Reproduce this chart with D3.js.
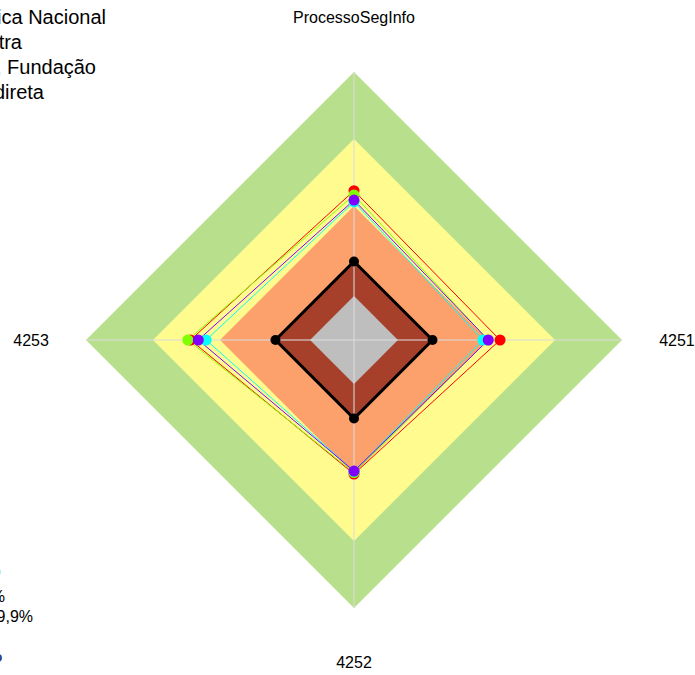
<!DOCTYPE html>
<html>
<head>
<meta charset="utf-8">
<script src="https://cdn.jsdelivr.net/npm/d3@7"></script>
<style>
  body { margin: 0; background: #fff; }
  svg { display: block; font-family: "Liberation Sans", Arial, sans-serif; }
</style>
</head>
<body>
<svg id="chart" width="695" height="675"></svg>
<script>
// axes, clockwise from the top
var axes = ["ProcessoSegInfo", "4251", "4252", "4253"];

// background bands (outer to inner)
var bandLevels = [100, 75, 50, 29.3, 16.4];
var bandColors = ["#b8e08c", "#fffb8f", "#fca16b", "#a6402b", "#bebebe"];

// series values, same order as axes
var serieVermelha = [55.7, 54.5, 50.0, 61.0];
var serieVerde    = [54.1, 50.0, 49.5, 62.0];
var serieCiano    = [51.5, 48.1, 49.0, 55.2];
var serieRoxa     = [52.2, 50.1, 48.9, 58.1];
var serieMinima   = [29.3, 29.3, 29.3, 29.3];

var series = [
  {values: serieVermelha, color: "#ff0000", width: 1},
  {values: serieVerde,    color: "#80ff00", width: 1},
  {values: serieCiano,    color: "#00ffff", width: 1},
  {values: serieRoxa,     color: "#8000ff", width: 1},
  {values: serieMinima,   color: "#000000", width: 3}
];

var legendLabels = ["Administração Pública Nacional", "Amostra", "Autarquia, Fundação", "Administração direta"];
var faixaLabels = ["Aprimorado: 70 a 100%", "Intermediário: 40 a 69,9%"];

var svg = d3.select("#chart"),
    cx = 354,
    cy = 340;

var r = d3.scaleLinear().domain([0, 100]).range([0, 268]);
var angle = d3.scaleLinear().domain([0, axes.length]).range([0, 2 * Math.PI]);

function pt(i, v) {
    var a = angle(i);
    return [cx + r(v) * Math.sin(a), cy - r(v) * Math.cos(a)];
}

var line = d3.line().curve(d3.curveLinearClosed);

// bands
svg.append("g")
    .selectAll("path")
    .data(bandLevels)
    .enter().append("path")
    .attr("d", function (lv) {
        return line(axes.map(function (_, i) { return pt(i, lv); }));
    })
    .attr("fill", function (d, i) { return bandColors[i]; });

// axis lines
svg.append("g")
    .selectAll("line")
    .data(axes)
    .enter().append("line")
    .attr("x1", cx).attr("y1", cy)
    .attr("x2", function (d, i) { return pt(i, 100)[0]; })
    .attr("y2", function (d, i) { return pt(i, 100)[1]; })
    .attr("stroke", "#dcdcdc")
    .attr("stroke-opacity", 0.7)
    .attr("stroke-width", 1.5);

// series
series.forEach(function (s) {
    var pts = s.values.map(function (v, i) { return pt(i, v); });
    svg.append("path")
        .attr("d", line(pts))
        .attr("fill", "none")
        .attr("stroke", s.color)
        .attr("stroke-width", s.width)
        .attr("stroke-linejoin", "miter");
});
series.forEach(function (s) {
    svg.append("g")
        .selectAll("circle")
        .data(s.values)
        .enter().append("circle")
        .attr("cx", function (d, i) { return pt(i, d)[0]; })
        .attr("cy", function (d, i) { return pt(i, d)[1]; })
        .attr("r", s.width > 1 ? 5 : 5.5)
        .attr("fill", s.color);
});

// axis labels
svg.append("g")
    .selectAll("text")
    .data(axes)
    .enter().append("text")
    .attr("x", function (d, i) { return pt(i, 120.5)[0]; })
    .attr("y", function (d, i) { return pt(i, 120.5)[1]; })
    .attr("text-anchor", "middle")
    .attr("dominant-baseline", "central")
    .attr("font-size", 16)
    .text(function (d) { return d; });

// legend (cut by the left border)
var legendRight = [106, 22, 96, 44];
svg.append("g")
    .selectAll("text")
    .data(legendLabels)
    .enter().append("text")
    .attr("x", function (d, i) { return legendRight[i]; })
    .attr("y", function (d, i) { return 24 + i * 25; })
    .attr("text-anchor", "end")
    .attr("font-size", 20)
    .text(function (d) { return d; });

// lower legend (also cut by the left border)
var faixaRight = [5, 33];
svg.append("g")
    .selectAll("text")
    .data(faixaLabels)
    .enter().append("text")
    .attr("x", function (d, i) { return faixaRight[i]; })
    .attr("y", function (d, i) { return 602 + i * 20; })
    .attr("text-anchor", "end")
    .attr("font-size", 16)
    .text(function (d) { return d; });

svg.append("circle").attr("cx", -3).attr("cy", 572).attr("r", 4).attr("fill", "#aef0f5");
svg.append("circle").attr("cx", -2).attr("cy", 658).attr("r", 4).attr("fill", "#1f4ea0");
</script>
</body>
</html>
